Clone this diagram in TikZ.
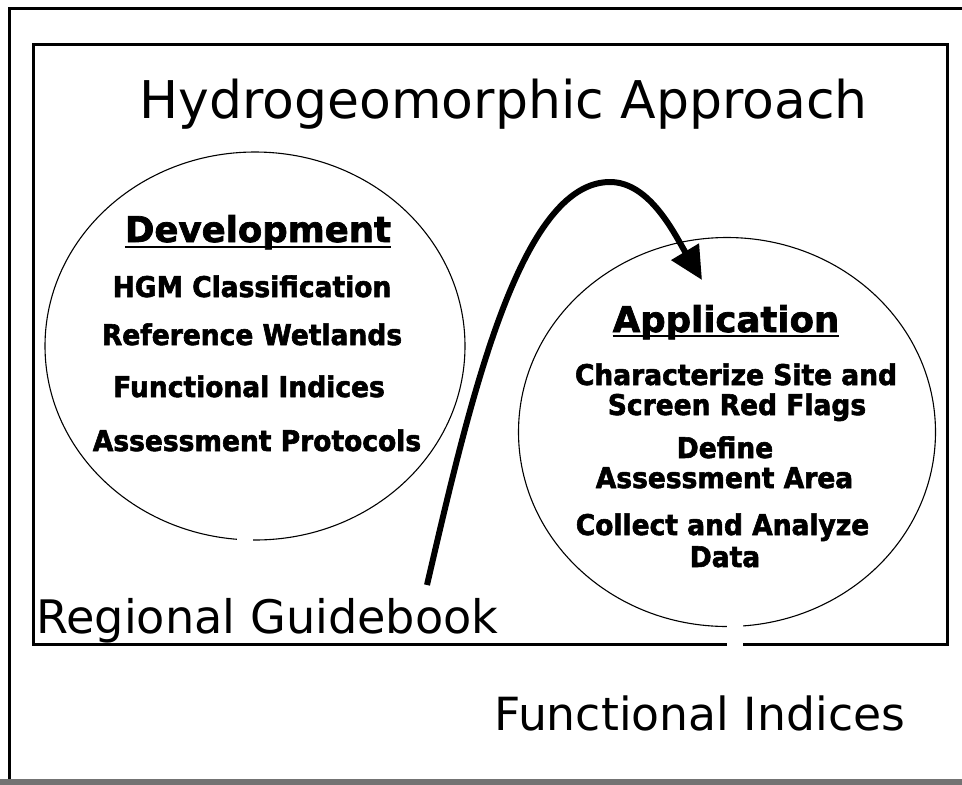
\documentclass[tikz,border=0pt]{standalone}
\usepackage{fontspec}
\setmainfont{DejaVu Sans}
\newfontfamily\heavyfont{DejaVu Sans}[UprightFont={* Bold}, FakeBold=2]
\newfontfamily\itemfont{DejaVu Sans}[UprightFont={* Bold}, FakeStretch=0.93, FakeBold=2]
\usetikzlibrary{arrows.meta,shapes.geometric}
\begin{document}
\begin{tikzpicture}[x=1pt,y=-1pt,
  frameline/.style={line width=3pt},
  circ/.style={draw, ellipse, line width=1.1pt, inner sep=0pt, minimum width=420pt, minimum height=388pt},
  head/.style={font=\fontsize{35.5}{40}\heavyfont, anchor=base, inner sep=0pt},
  item/.style={font=\fontsize{28.5}{30}\itemfont, anchor=base, inner sep=0pt},
  big/.style={anchor=base west, inner sep=0pt},
  uline/.style={line width=2pt},
  gap/.style={fill=white, draw=none},
  flow/.style={line width=6pt, -{Triangle[length=33pt,width=31pt]}}
]
\useasboundingbox (0,0) rectangle (962,785);
\fill[white] (0,0) rectangle (962,785);
% outer frame
\draw[frameline] (962,8) -- (9,8) -- (9,781);
\fill[black!55] (0,779) rectangle (962,785);
% inner frame
\draw[frameline] (33,44) rectangle (947,644);
% title
\node[font=\fontsize{52}{60}\selectfont, anchor=base, inner sep=0pt] (title) at (503.5,118) {Hydrogeomorphic Approach};
% ellipses
\node[circ] (devc) at (255,346) {};
\node[circ, minimum width=417pt, minimum height=389pt] (appc) at (727,432) {};
\path[gap] (237,528) rectangle (253,550);
\path[gap] (727,610) rectangle (743,650);
% development texts
\node[head] (dev) at (258,242) {Development};
\draw[uline] ([yshift=-5pt]dev.base west) -- ([yshift=-5pt]dev.base east);
\node[item] (d1) at (252,297) {HGM Classification};
\node[item] (d2) at (252,345) {Reference Wetlands};
\node[item] (d3) at (249,397) {Functional Indices};
\node[item] (d4) at (257,451) {Assessment Protocols};
% application texts
\node[head] (app) at (726,332) {Application};
\draw[uline] ([yshift=-4pt]app.base west) -- ([yshift=-4pt]app.base east);
\node[item] (a1) at (736,385) {Characterize Site and};
\node[item] (a2) at (737,415) {Screen Red Flags};
\node[item] (a3) at (725,458) {Define};
\node[item] (a4) at (724.5,488) {Assessment Area};
\node[item] (a5) at (722.5,535) {Collect and Analyze};
\node[item] (a6) at (725,567) {Data};
% bottom labels
\node[big, font=\fontsize{46.2}{50}\selectfont] (rg) at (36,633) {Regional Guidebook};
\node[big, font=\fontsize{45.7}{50}\selectfont] (fi) at (494,730) {Functional Indices};
% arrow
\coordinate (aS) at (427,585);
\coordinate (aP) at (610,182);
\coordinate (aT) at (702,280);
\draw[flow] (aS) .. controls (470,400) and (520,182) .. (aP) .. controls (650,182) and (675,235) .. (aT);
\end{tikzpicture}
\end{document}
